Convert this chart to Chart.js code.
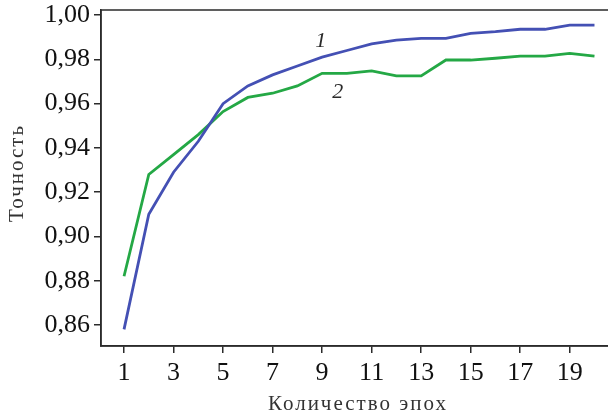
<!DOCTYPE html>
<html>
<head>
<meta charset="utf-8">
<script src="https://cdn.jsdelivr.net/npm/chart.js@4.4.1/dist/chart.umd.min.js"></script>
<style>
  html, body { margin: 0; padding: 0; background: #fff; overflow: hidden; }
  #wrap { width: 620px; height: 416px; }
</style>
</head>
<body>
<div id="wrap"><canvas id="accChart" width="620" height="416"></canvas></div>
<script>
// epochs and accuracy values
const epochs = [1, 2, 3, 4, 5, 6, 7, 8, 9, 10, 11, 12, 13, 14, 15, 16, 17, 18, 19, 20];
const accuracy1 = [0.858, 0.910, 0.929, 0.943, 0.960, 0.968, 0.973, 0.977, 0.981, 0.984, 0.987, 0.9887, 0.9895, 0.9895, 0.9917, 0.9925, 0.9936, 0.9936, 0.9955, 0.9955];
const accuracy2 = [0.882, 0.928, 0.937, 0.946, 0.9564, 0.9628, 0.9647, 0.968, 0.9737, 0.9737, 0.9748, 0.9725, 0.9725, 0.9797, 0.9797, 0.9805, 0.9815, 0.9815, 0.9827, 0.9815];
const xTicks = [1, 3, 5, 7, 9, 11, 13, 15, 17, 19];
const yTicks = [0.86, 0.88, 0.90, 0.92, 0.94, 0.96, 0.98, 1.00];
const xTitle = 'Количество эпох';
const yTitle = 'Точность';
const curveLabels = [
    { text: '1', x: 8.95, y: 0.9883 },
    { text: '2', x: 9.63, y: 0.9653 }
];

const SERIF = '"Liberation Serif", "DejaVu Serif", serif';
const INK = '#2b2b2b';

function toPoints(values) {
    return values.map((v, i) => ({ x: epochs[i], y: v }));
}

// box round the plot area, axis titles and the italic curve numbers
const framePlugin = {
    id: 'frame',
    afterDraw(chart) {
        const ctx = chart.ctx;
        const a = chart.chartArea;
        ctx.save();
        ctx.strokeStyle = INK;
        ctx.lineWidth = 1.5;
        ctx.strokeRect(a.left, a.top, a.right - a.left, a.bottom - a.top);

        ctx.fillStyle = INK;
        ctx.font = 'italic 22px ' + SERIF;
        ctx.textAlign = 'center';
        ctx.textBaseline = 'middle';
        curveLabels.forEach(l => {
            ctx.fillText(l.text, chart.scales.x.getPixelForValue(l.x), chart.scales.y.getPixelForValue(l.y));
        });

        // axis titles, a little spaced out like the original
        ctx.fillStyle = '#333';
        ctx.font = '21px ' + SERIF;
        ctx.letterSpacing = '2px';
        ctx.fillText(xTitle, 358, 404);
        ctx.translate(17, 173);
        ctx.rotate(-Math.PI / 2);
        ctx.fillText(yTitle, 0, 0);
        ctx.restore();
    }
};

const ctx = document.getElementById('accChart').getContext('2d');
new Chart(ctx, {
    type: 'line',
    data: {
        datasets: [{
            label: '1',
            data: toPoints(accuracy1),
            borderColor: '#4450b4',
            borderWidth: 2.8,
            pointRadius: 0,
            tension: 0,
            fill: false
        }, {
            label: '2',
            data: toPoints(accuracy2),
            borderColor: '#24a845',
            borderWidth: 2.8,
            pointRadius: 0,
            tension: 0,
            fill: false
        }]
    },
    options: {
        responsive: false,
        animation: false,
        layout: { padding: { top: 10, right: 2, left: 0, bottom: 0 } },
        plugins: {
            legend: { display: false },
            tooltip: { enabled: false }
        },
        scales: {
            x: {
                type: 'linear',
                min: 0.07,
                max: 20.95,
                afterBuildTicks: scale => { scale.ticks = xTicks.map(v => ({ value: v })); },
                afterFit: scale => { scale.height = 70; scale.paddingLeft = 0; scale.paddingRight = 0; },
                grid: { drawOnChartArea: false, drawTicks: true, tickLength: 7, color: INK, lineWidth: 1.5 },
                border: { display: true, color: INK, width: 1.5 },
                ticks: {
                    color: '#111',
                    font: { family: SERIF, size: 26 },
                    padding: 5,
                    maxRotation: 0,
                    autoSkip: false
                }
            },
            y: {
                min: 0.8505,
                max: 1.0023,
                afterBuildTicks: scale => { scale.ticks = yTicks.map(v => ({ value: v })); },
                afterFit: scale => { scale.width = 101; scale.paddingTop = 0; scale.paddingBottom = 0; },
                grid: { drawOnChartArea: false, drawTicks: true, tickLength: 7, color: INK, lineWidth: 1.5 },
                border: { display: true, color: INK, width: 1.5 },
                ticks: {
                    color: '#111',
                    font: { family: SERIF, size: 26 },
                    padding: 4,
                    callback: v => v.toFixed(2).replace('.', ',')
                }
            }
        }
    },
    plugins: [framePlugin]
});
</script>
</body>
</html>
